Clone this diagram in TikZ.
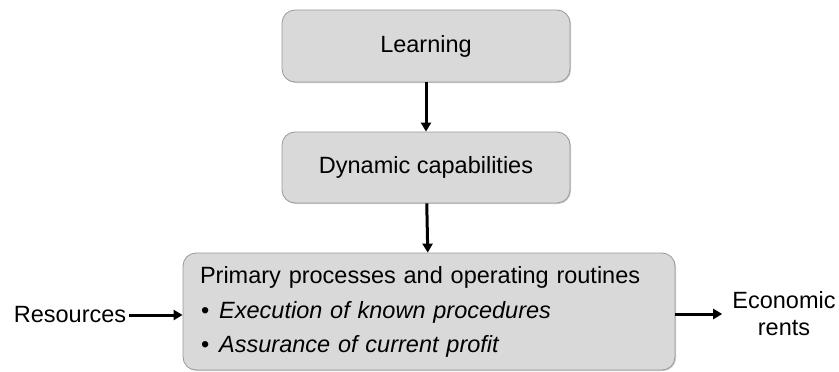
\documentclass[tikz,border=0pt]{standalone}
\usepackage{fontspec}
\setmainfont{Liberation Sans}
\usepackage{tikz}
\usetikzlibrary{arrows.meta,shapes,shadows}

\begin{document}
\begin{tikzpicture}[x=1pt,y=1pt,>={Triangle[length=9pt,width=10pt]},
                    node distance=121.5pt,
                    font=\fontsize{23.5}{27}\selectfont,
                    box/.style={rectangle,rounded corners=13pt,fill=gray!30,
                                draw=gray!80,line width=0.8pt,
                                drop shadow={shadow xshift=1pt,shadow yshift=-1pt,
                                             opacity=0.4}},
                    label/.style={inner sep=0pt,align=center},
                    flow/.style={->,draw,line width=3pt}]

  \useasboundingbox (0,0) rectangle (839,-372);

  \node[box,minimum width=288pt,minimum height=72pt] (L) at (426,-46) {Learning};
  \node[box,minimum width=288pt,minimum height=71pt] (D) [below of=L] {Dynamic capabilities};
  \node[box,minimum width=492pt,minimum height=117pt,text width=458pt,
        inner xsep=17pt,align=left] (P) at (429,-311.5)
        {Primary processes and operating routines\\[8pt]
         \hspace*{1pt}\textbullet\hspace{10pt}\textit{Execution of known procedures}\\[7pt]
         \hspace*{1pt}\textbullet\hspace{10pt}\textit{Assurance of current profit}};
  \node[label] (R) at (70,-315)  {Resources};
  \node[label] (E) at (784,-314) {Economic\\rents};

  \draw[flow] (L) -- (D);
  \draw[flow] (D) -- (P);
  \draw[flow] ([xshift=3pt]R.east) -- (R.east -| P.west);
  \draw[flow] (E.west -| P.east) -- ([xshift=-10pt]E.west);
\end{tikzpicture}
\end{document}
